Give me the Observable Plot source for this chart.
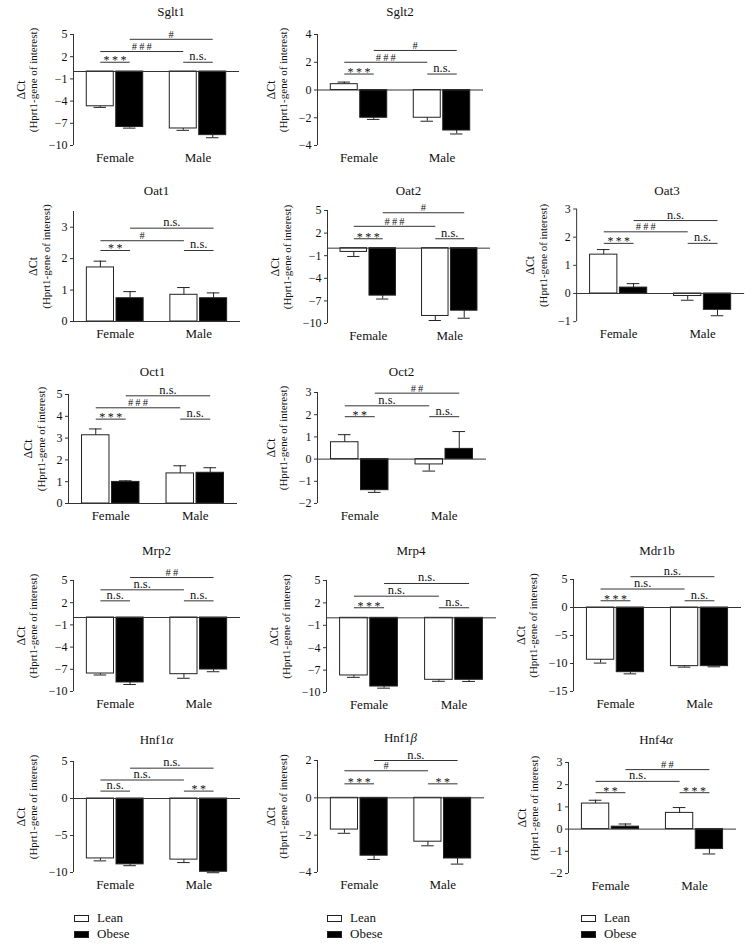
<!DOCTYPE html>
<html><head><meta charset="utf-8">
<script src="https://cdn.jsdelivr.net/npm/d3@7"></script>
<script src="https://cdn.jsdelivr.net/npm/@observablehq/plot@0.6"></script>
<style>
body{margin:0;background:#fff;}
#fig{position:relative;width:754px;height:946px;overflow:hidden;font-family:"Liberation Serif","Times New Roman",serif;color:#111;background:#fff;}
.panel{position:absolute;}
.title{position:absolute;font-size:13px;transform:translate(-50%,-50%);white-space:nowrap;}
.legend{position:absolute;font-size:13px;line-height:16px;}
.legend .row{display:flex;align-items:center;height:16px;}
.legend .sw{width:13px;height:5px;border:1px solid #222;margin-right:8px;}
</style></head><body><div id="fig"></div>
<script>
// ---------------- data ----------------
const genes = ["Sglt1","Sglt2","Oat1","Oat2","Oat3","Oct1","Oct2","Mrp2","Mrp4","Mdr1b","Hnf1α","Hnf1β","Hnf4α"];
const sexes = ["Female","Male"];
const diets = ["Lean","Obese"];
const yLabel1 = "ΔCt";
const yLabel2 = "(Hprt1-gene of interest)";
// mean ΔCt per gene: [Female Lean, Female Obese, Male Lean, Male Obese]
const means = [
  [-4.7, -7.5, -7.7, -8.6],
  [0.42, -2.0, -2.0, -2.92],
  [1.72, 0.74, 0.85, 0.74],
  [-0.5, -6.3, -9.0, -8.3],
  [1.38, 0.21, -0.09, -0.58],
  [3.13, 0.99, 1.38, 1.41],
  [0.76, -1.4, -0.24, 0.46],
  [-7.57, -8.78, -7.66, -7.03],
  [-7.72, -9.2, -8.3, -8.3],
  [-9.33, -11.55, -10.47, -10.47],
  [-8.1, -8.9, -8.26, -9.9],
  [-1.7, -3.1, -2.35, -3.25],
  [1.15, 0.11, 0.73, -0.9]
];
// SEM per gene, same order
const sems = [
  [0.15, 0.15, 0.25, 0.35],
  [0.15, 0.12, 0.25, 0.25],
  [0.2, 0.21, 0.23, 0.17],
  [0.6, 0.45, 0.6, 1.0],
  [0.18, 0.14, 0.15, 0.21],
  [0.29, 0.05, 0.35, 0.23],
  [0.34, 0.1, 0.3, 0.78],
  [0.2, 0.27, 0.55, 0.3],
  [0.25, 0.22, 0.2, 0.22],
  [0.6, 0.3, 0.18, 0.12],
  [0.33, 0.18, 0.4, 0.13],
  [0.2, 0.2, 0.22, 0.3],
  [0.15, 0.12, 0.24, 0.22]
];
const yDomains = [[-10,5],[-4,4],[0,3.5],[-10,5],[-1,3],[0,5],[-2,3],[-10,5],[-10,5],[-15,5],[-10,5],[-4,2],[-2,3]];
const yTicks = [
  [5,2,-1,-4,-7,-10],[4,2,0,-2,-4],[0,1,2,3],[5,2,-1,-4,-7,-10],[-1,0,1,2,3],
  [0,1,2,3,4,5],[-2,-1,0,1,2,3],[5,2,-1,-4,-7,-10],[5,2,-1,-4,-7,-10],[5,0,-5,-10,-15],
  [5,0,-5,-10],[2,0,-2,-4],[-2,-1,0,1,2,3]
];
// significance: [Female Lean vs Obese, Male Lean vs Obese, Lean Female vs Male, Obese Female vs Male]
const sigLabels = [
  ["***","n.s.","###","#"],
  ["***","n.s.","###","#"],
  ["**","n.s.","#","n.s."],
  ["***","n.s.","###","#"],
  ["***","n.s.","###","n.s."],
  ["***","n.s.","###","n.s."],
  ["**","n.s.","n.s.","##"],
  ["n.s.","n.s.","n.s.","##"],
  ["***","n.s.","n.s.","n.s."],
  ["***","n.s.","n.s.","n.s."],
  ["n.s.","**","n.s.","n.s."],
  ["***","**","#","n.s."],
  ["**","***","n.s.","##"]
];
// bracket heights (ΔCt units): [within-sex, lean comparison, obese comparison]
const sigLevels = [
  [1.25, 2.7, 4.35],[1.15, 2.0, 2.85],[2.26, 2.57, 2.97],[1.25, 2.9, 4.7],[1.78, 2.19, 2.59],
  [3.87, 4.39, 4.94],[1.91, 2.4, 2.97],[2.25, 3.74, 5.4],[1.35, 2.9, 4.6],[1.2, 3.3, 5.5],
  [1.0, 2.5, 4.1],[0.75, 1.45, 2.0],[1.64, 2.15, 2.68]
];
const legendLabels = ["Lean","Obese"];

// ---------------- layout (page px: axis left, frame right, top, bottom, title x offset & y) ----------------
const layout = [
  {L:73, R:239, T:34, B:145, tx:15, ty:12},
  {L:317, R:483, T:34, B:145, tx:0, ty:12},
  {L:73, R:240, T:211, B:321, tx:0, ty:191},
  {L:327, R:490, T:210, B:323, tx:0, ty:191},
  {L:577, R:747, T:209, B:323, tx:5, ty:191},
  {L:68, R:237, T:394, B:503, tx:0, ty:372},
  {L:317, R:486, T:392, B:503, tx:0, ty:372},
  {L:73, R:240, T:580, B:691, tx:0, ty:551},
  {L:326, R:496, T:580, B:692, tx:0, ty:551},
  {L:573, R:741, T:579, B:691, tx:0, ty:551},
  {L:73, R:240, T:761, B:872, tx:0, ty:740},
  {L:317, R:484, T:760, B:872, tx:0, ty:738},
  {L:568, R:736, T:762, B:873, tx:4, ty:740}
];
const legendPos = [{x:74, y:910},{x:327, y:910},{x:581, y:910}];

const mL = 72, mR = 10, mT = 40, mB = 30;
const barStep = 0.355, barWidth = 0.325, capHalf = 0.075;
const ink = "#222";
const fontFamily = "'Liberation Serif','Times New Roman',serif";
const fmt = t => t < 0 ? "\u2212" + Math.abs(t) : String(t);
const ctx = document.createElement("canvas").getContext("2d");
ctx.font = "12px " + fontFamily;

const fig = document.getElementById("fig");
const center = (si, di) => si + (di - 0.5) * barStep;

genes.forEach((gene, i) => {
  const lay = layout[i];
  const rows = [];
  sexes.forEach((s, si) => diets.forEach((d, di) => {
    const v = means[i][si * 2 + di], e = sems[i][si * 2 + di];
    rows.push({sex: s, diet: d, value: v, end: v + (v >= 0 ? e : -e), c: center(si, di)});
  }));
  const lv = sigLevels[i], sg = sigLabels[i];
  const br = [
    {x1: center(0,0), x2: center(0,1), y: lv[0], label: sg[0]},
    {x1: center(1,0), x2: center(1,1), y: lv[0], label: sg[1]},
    {x1: center(0,0), x2: center(1,0), y: lv[1], label: sg[2]},
    {x1: center(0,1), x2: center(1,1), y: lv[2], label: sg[3]}
  ].map(d => ({...d, mid: (d.x1 + d.x2) / 2,
    text: d.label === "n.s." ? d.label : d.label.split("").join("\u2009")}));
  const tw = Math.max(...yTicks[i].map(t => ctx.measureText(fmt(t)).width));
  const off = 3 + 3 + tw + 15;
  const W = lay.R - lay.L + mL + mR, H = lay.B - lay.T + mT + mB;
  const chart = Plot.plot({
    width: W, height: H, marginLeft: mL, marginRight: mR, marginTop: mT, marginBottom: mB,
    x: {domain: [-0.5, 1.5]},
    y: {domain: yDomains[i]},
    style: {fontFamily, fontSize: "12px", color: "#111", background: "transparent", overflow: "visible"},
    marks: [
      Plot.rect(rows, {x1: d => d.c - barWidth / 2, x2: d => d.c + barWidth / 2, y1: 0, y2: "value",
        fill: d => d.diet === "Lean" ? "white" : "black", stroke: ink, strokeWidth: 1}),
      Plot.ruleX(rows, {x: "c", y1: "value", y2: "end", stroke: ink, strokeWidth: 1}),
      Plot.ruleY(rows, {y: "end", x1: d => d.c - capHalf, x2: d => d.c + capHalf, stroke: ink, strokeWidth: 1}),
      Plot.ruleY([0], {stroke: "#333", strokeWidth: 1}),
      Plot.ruleX([-0.5], {y1: yDomains[i][0], y2: yDomains[i][1], stroke: "#333", strokeWidth: 1}),
      Plot.axisY({ticks: yTicks[i], tickFormat: fmt, tickSize: 3, tickPadding: 3, fontSize: 12, label: null, stroke: "#333"}),
      Plot.axisX({ticks: [0, 1], tickFormat: j => sexes[j], tickSize: 0, tickPadding: 7, fontSize: 13, label: null}),
      Plot.link(br, {x1: "x1", x2: "x2", y1: "y", y2: "y", stroke: "#333", strokeWidth: 1}),
      Plot.text(br.filter(d => d.label === "n.s."), {x: "mid", y: "y", text: "text", dy: -6, fontSize: 12.5}),
      Plot.text(br.filter(d => d.label.includes("#")), {x: "mid", y: "y", text: "text", dy: -5, fontSize: 10.5}),
      Plot.text(br.filter(d => d.label.includes("*")), {x: "mid", y: "y", text: "text", dy: -2, fontSize: 12}),
      Plot.text([yLabel1], {text: d => d, frameAnchor: "left", textAnchor: "middle", lineAnchor: "middle", rotate: -90, dx: -off - 13, dy: 0, fontSize: 12}),
      Plot.text([yLabel2], {text: d => d, frameAnchor: "left", textAnchor: "middle", lineAnchor: "middle", rotate: -90, dx: -off, dy: -10, fontSize: 11})
    ]
  });
  const div = document.createElement("div");
  div.className = "panel";
  div.style.left = (lay.L - mL) + "px";
  div.style.top = (lay.T - mT) + "px";
  div.appendChild(chart);
  fig.appendChild(div);

  const t = document.createElement("div");
  t.className = "title";
  t.style.left = ((lay.L + lay.R) / 2 + lay.tx) + "px";
  t.style.top = lay.ty + "px";
  t.innerHTML = gene.replace(/([α-ω])/g, "<i>$1</i>");
  fig.appendChild(t);
});

legendPos.forEach(p => {
  const lg = document.createElement("div");
  lg.className = "legend";
  lg.style.left = p.x + "px";
  lg.style.top = p.y + "px";
  legendLabels.forEach((lab, k) => {
    const r = document.createElement("div");
    r.className = "row";
    const sw = document.createElement("span");
    sw.className = "sw";
    sw.style.background = k === 0 ? "white" : "black";
    const tx = document.createElement("span");
    tx.textContent = lab;
    r.appendChild(sw); r.appendChild(tx);
    lg.appendChild(r);
  });
  fig.appendChild(lg);
});
</script></body></html>
